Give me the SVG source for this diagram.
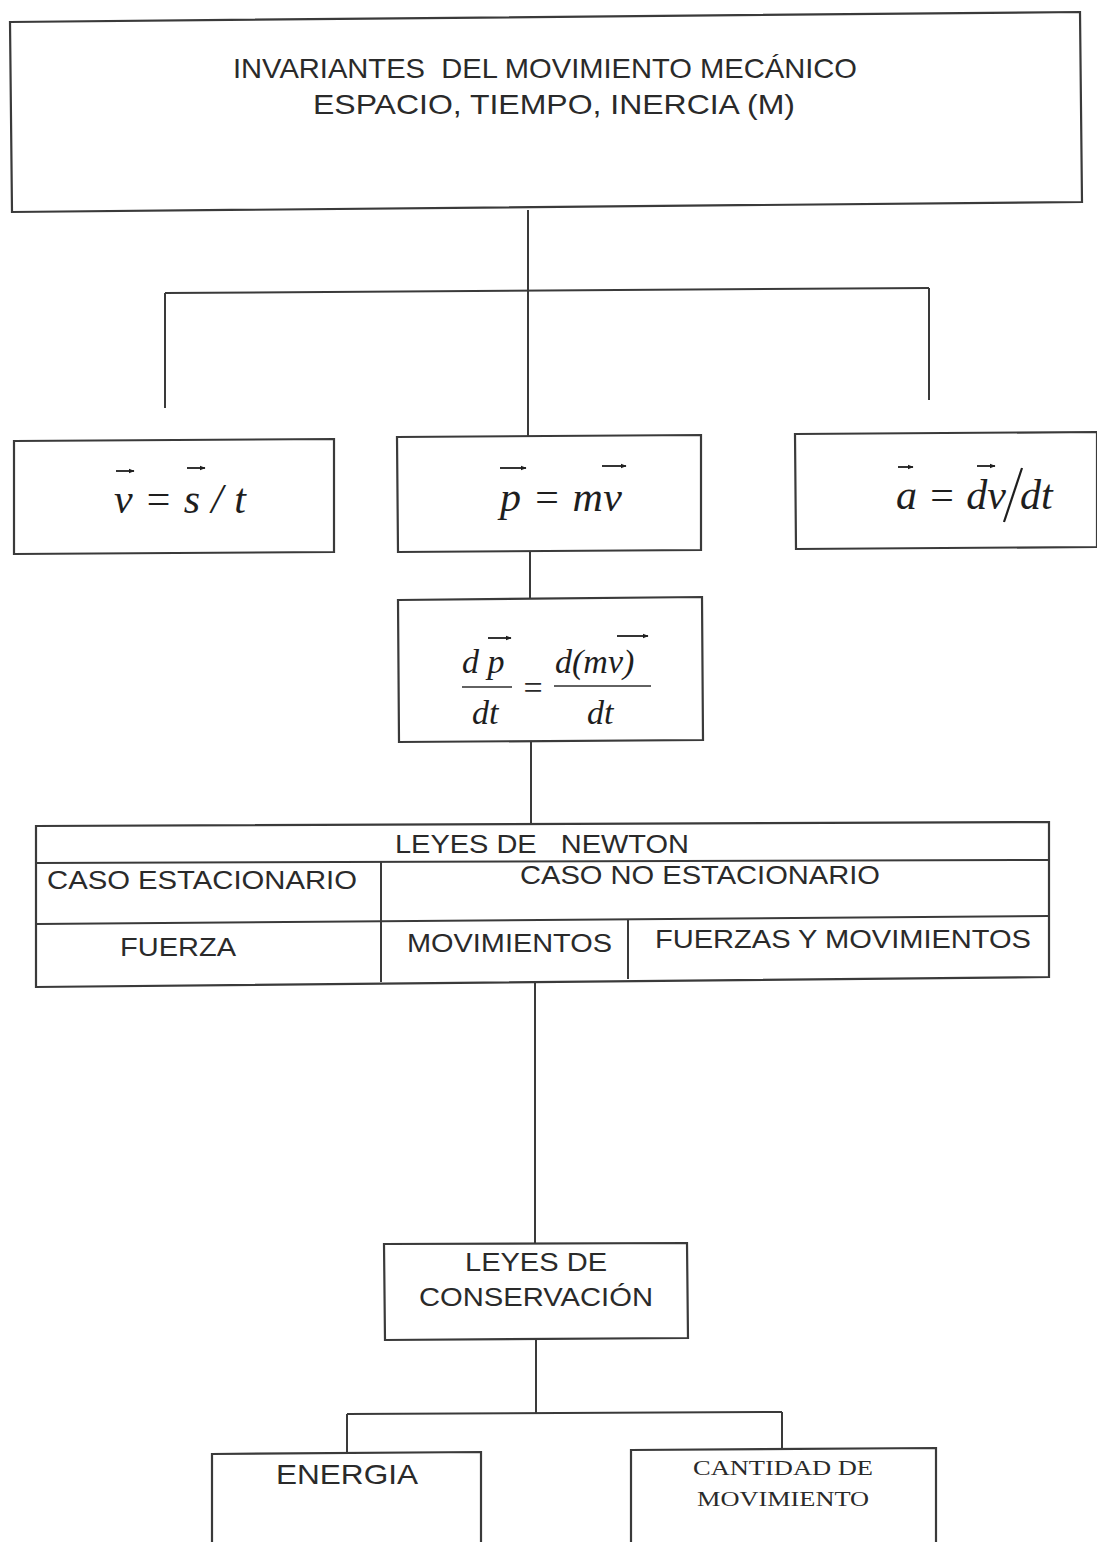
<svg xmlns="http://www.w3.org/2000/svg" width="1097" height="1542" viewBox="0 0 1097 1542">
<style>
.box{fill:#fff;stroke:#3a3a3a;stroke-width:2.2}
.ln{fill:none;stroke:#3a3a3a;stroke-width:2}
.sans{font-family:"Liberation Sans",Arial,sans-serif;fill:#2a2a2a}
.cond{font-family:"Liberation Sans",Arial,sans-serif;fill:#2a2a2a}
.math{font-family:"Liberation Serif","Times New Roman",serif;font-style:italic;fill:#1e1e1e}
.rom{font-family:"Liberation Serif","Times New Roman",serif;fill:#2a2a2a}
.vec{fill:none;stroke:#1e1e1e;stroke-width:1.8;marker-end:url(#ah)}
</style>
<defs>
<marker id="ah" viewBox="0 0 10 10" refX="9" refY="5" markerWidth="6" markerHeight="6" orient="auto" markerUnits="userSpaceOnUse">
<path d="M0,1 L10,5 L0,9 z" fill="#1e1e1e"/>
</marker>
</defs>
<rect width="1097" height="1542" fill="#fff"/>

<g id="connectors">
<path class="ln" d="M528,210 V437"/>
<path class="ln" d="M165,293 L929,288"/>
<path class="ln" d="M165,293 V408"/>
<path class="ln" d="M929,288 V400"/>
<path class="ln" d="M530,551 V598"/>
<path class="ln" d="M531,741 V823"/>
<path class="ln" d="M535,980 V1243"/>
<path class="ln" d="M536,1339 V1414"/>
<path class="ln" d="M347,1414 L782,1412"/>
<path class="ln" d="M347,1414 V1453"/>
<path class="ln" d="M782,1412 V1450"/>
</g>

<g id="invariantes">
<path class="box" d="M10,22 L1080,12 L1082,202 L12,212 Z"/>
<text class="cond" x="545" y="78" font-size="28" text-anchor="middle" textLength="624" lengthAdjust="spacingAndGlyphs" xml:space="preserve">INVARIANTES  DEL MOVIMIENTO MECÁNICO</text>
<text class="cond" x="554" y="114" font-size="28" text-anchor="middle" textLength="482" lengthAdjust="spacingAndGlyphs">ESPACIO, TIEMPO, INERCIA (M)</text>
</g>

<g id="velocidad">
<path class="box" d="M14,441 L334,439 L334,552 L14,554 Z"/>
<text class="math" x="114" y="513" font-size="42" textLength="132" lengthAdjust="spacing">v = s / t</text>
<path class="vec" d="M116,471 H134"/>
<path class="vec" d="M187,468 H205"/>
</g>

<g id="momento">
<path class="box" d="M397,437 L701,435 L701,550 L398,552 Z"/>
<text class="math" x="500" y="511" font-size="42" textLength="122" lengthAdjust="spacing">p = mv</text>
<path class="vec" d="M500,468 H526"/>
<path class="vec" d="M602,466 H626"/>
</g>

<g id="aceleracion">
<path class="box" d="M795,434 L1097,432 L1097,547 L796,549 Z"/>
<text class="math" x="896" y="509" font-size="42">a = dv</text>
<text class="math" x="1020" y="509" font-size="42">dt</text>
<path d="M1022,468 L1004,522" stroke="#1e1e1e" stroke-width="2.2" fill="none"/>
<path class="vec" d="M898,467 H913"/>
<path class="vec" d="M977,466 H995"/>
</g>

<g id="derivada">
<path class="box" d="M398,600 L702,597 L703,740 L399,742 Z"/>
<text class="math" x="462" y="673" font-size="34" xml:space="preserve">d p</text>
<path class="vec" d="M488,638 H511"/>
<path d="M462,687 H512" stroke="#2e2e2e" stroke-width="1.5"/>
<text class="math" x="472" y="724" font-size="34">dt</text>
<text class="rom" x="533" y="699" font-size="34" text-anchor="middle">=</text>
<text class="math" x="555" y="673" font-size="34">d(mv)</text>
<path class="vec" d="M617,636 H648"/>
<path d="M554,686 H651" stroke="#2e2e2e" stroke-width="1.5"/>
<text class="math" x="587" y="724" font-size="34">dt</text>
</g>

<g id="leyes-newton">
<path class="box" d="M36,826 L1049,822 L1049,977 L36,987 Z"/>
<path class="ln" d="M36,863 L1049,860"/>
<path class="ln" d="M36,924 L1049,916"/>
<path class="ln" d="M381,862 V982"/>
<path class="ln" d="M628,920 V979"/>
<text class="sans" x="542" y="853" font-size="26" text-anchor="middle" textLength="294" lengthAdjust="spacingAndGlyphs" xml:space="preserve">LEYES DE   NEWTON</text>
<text class="sans" x="47" y="889" font-size="26" textLength="310" lengthAdjust="spacingAndGlyphs">CASO ESTACIONARIO</text>
<text class="sans" x="520" y="884" font-size="26" textLength="360" lengthAdjust="spacingAndGlyphs">CASO NO ESTACIONARIO</text>
<text class="sans" x="178" y="956" font-size="26" text-anchor="middle" textLength="116" lengthAdjust="spacingAndGlyphs">FUERZA</text>
<text class="sans" x="407" y="952" font-size="26" textLength="205" lengthAdjust="spacingAndGlyphs">MOVIMIENTOS</text>
<text class="sans" x="655" y="948" font-size="26" textLength="376" lengthAdjust="spacingAndGlyphs">FUERZAS Y MOVIMIENTOS</text>
</g>

<g id="conservacion">
<path class="box" d="M384,1244 L687,1243 L688,1338 L385,1340 Z"/>
<text class="sans" x="536" y="1271" font-size="26" text-anchor="middle" textLength="142" lengthAdjust="spacingAndGlyphs">LEYES DE</text>
<text class="sans" x="536" y="1306" font-size="26" text-anchor="middle" textLength="234" lengthAdjust="spacingAndGlyphs">CONSERVACIÓN</text>
</g>

<g id="energia">
<path class="box" d="M212,1454 L481,1452 L481,1545 L212,1545 Z"/>
<text class="cond" x="347" y="1484" font-size="28" text-anchor="middle" textLength="142" lengthAdjust="spacingAndGlyphs">ENERGIA</text>
</g>

<g id="cantidad">
<path class="box" d="M631,1450 L936,1448 L936,1545 L631,1545 Z"/>
<text class="rom" x="783" y="1475" font-size="22" text-anchor="middle" textLength="180" lengthAdjust="spacingAndGlyphs">CANTIDAD DE</text>
<text class="rom" x="783" y="1506" font-size="22" text-anchor="middle" textLength="172" lengthAdjust="spacingAndGlyphs">MOVIMIENTO</text>
</g>
</svg>
